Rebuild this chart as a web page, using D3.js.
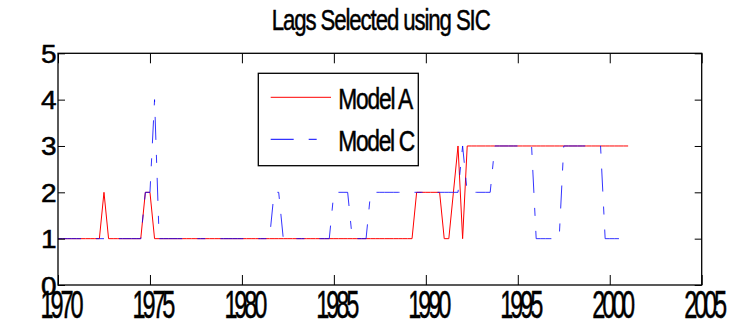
<!DOCTYPE html>
<html>
<head>
<meta charset="utf-8">
<script src="https://cdn.jsdelivr.net/npm/d3@7"></script>
<style>
  body { margin: 0; background: #fff; }
  svg { display: block; }
  text { font-family: "Liberation Sans", Arial, sans-serif; fill: #000; stroke: #000; stroke-width: 0.5px; }
</style>
</head>
<body>
<div id="chart"></div>
<script>
// quarterly observations, 1970Q1 .. 2001Q1 (one row per year)
const firstYear = 1970;
const seriesNames = ["Model A", "Model C"];
const seriesColors = ["#ff0000", "#0000ff"];
const xTicks = [1970, 1975, 1980, 1985, 1990, 1995, 2000, 2005];
const yTicks = [0, 1, 2, 3, 4, 5];

const modelA = [
    1, 1, 1, 1,   // 1970
    1, 1, 1, 1,   // 1971
    1, 1, 2, 1,   // 1972
    1, 1, 1, 1,   // 1973
    1, 1, 1, 2,   // 1974
    2, 1, 1, 1,   // 1975
    1, 1, 1, 1,   // 1976
    1, 1, 1, 1,   // 1977
    1, 1, 1, 1,   // 1978
    1, 1, 1, 1,   // 1979
    1, 1, 1, 1,   // 1980
    1, 1, 1, 1,   // 1981
    1, 1, 1, 1,   // 1982
    1, 1, 1, 1,   // 1983
    1, 1, 1, 1,   // 1984
    1, 1, 1, 1,   // 1985
    1, 1, 1, 1,   // 1986
    1, 1, 1, 1,   // 1987
    1, 1, 1, 1,   // 1988
    1, 1, 2, 2,   // 1989
    2, 2, 2, 2,   // 1990
    1, 1, 2, 3,   // 1991
    1, 3, 3, 3,   // 1992
    3, 3, 3, 3,   // 1993
    3, 3, 3, 3,   // 1994
    3, 3, 3, 3,   // 1995
    3, 3, 3, 3,   // 1996
    3, 3, 3, 3,   // 1997
    3, 3, 3, 3,   // 1998
    3, 3, 3, 3,   // 1999
    3, 3, 3, 3,   // 2000
    3             // 2001
];

const modelC = [
    1, 1, 1, 1,   // 1970
    1, 1, 1, 1,   // 1971
    1, 1, 1, 1,   // 1972
    1, 1, 1, 1,   // 1973
    1, 1, 1, 2,   // 1974
    2, 4, 1, 1,   // 1975
    1, 1, 1, 1,   // 1976
    1, 1, 1, 1,   // 1977
    1, 1, 1, 1,   // 1978
    1, 1, 1, 1,   // 1979
    1, 1, 1, 1,   // 1980
    1, 1, 1, 2,   // 1981
    2, 1, 1, 1,   // 1982
    1, 1, 1, 1,   // 1983
    1, 1, 1, 1,   // 1984
    2, 2, 2, 2,   // 1985
    1, 1, 1, 1,   // 1986
    2, 2, 2, 2,   // 1987
    2, 2, 2, 2,   // 1988
    2, 2, 2, 2,   // 1989
    2, 2, 2, 2,   // 1990
    2, 2, 2, 2,   // 1991
    3, 2, 2, 2,   // 1992
    2, 2, 2, 3,   // 1993
    3, 3, 3, 3,   // 1994
    3, 3, 3, 3,   // 1995
    1, 1, 1, 1,   // 1996
    1, 1, 3, 3,   // 1997
    3, 3, 3, 3,   // 1998
    3, 3, 3, 1,   // 1999
    1, 1, 1, 1,   // 2000
    1             // 2001
];

const width = 730;
const height = 325;
const plot = { left: 58, right: 701.7, top: 53.3, bottom: 285 };

const svg = d3.select("#chart")
    .append("svg")
    .attr("width", width)
    .attr("height", height);

const x = d3.scaleLinear().domain([1970, 2005]).range([plot.left, plot.right]);
const y = d3.scaleLinear().domain([0, 5]).range([plot.bottom, plot.top]);

// condensed text: glyphs squeezed by sx, spacing tightened to fit w
function squeezed(sel, x0, y0, size, sx, w) {
    return sel
        .attr("x", null)
        .attr("y", null)
        .attr("dy", null)
        .attr("text-anchor", "start")
        .attr("transform", `translate(${x0},${y0}) scale(${sx},1)`)
        .attr("font-size", size)
        .attr("textLength", w / sx)
        .attr("lengthAdjust", "spacing");
}

// title
squeezed(svg.append("text").text("Lags Selected using SIC"), 271.7, 30, 30, 0.74, 219);

// series lines (red first, blue dash-dot on top)
const line = d3.line()
    .x((d, i) => x(firstYear + i / 4))
    .y((d) => y(d));

[modelA, modelC].forEach((values, k) => {
    svg.append("path")
        .datum(values)
        .attr("fill", "none")
        .attr("stroke", seriesColors[k])
        .attr("stroke-width", 1)
        .attr("stroke-opacity", k === 1 ? 0.8 : 1)
        .attr("stroke-dasharray", k === 1 ? "23,15,8,15" : null)
        .attr("d", line);
});

// axes: ticks point inward on all four sides
const bottomAxis = svg.append("g")
    .attr("transform", `translate(0,${plot.bottom})`)
    .call(d3.axisBottom(x).tickValues(xTicks).tickSize(-10).tickFormat(d3.format("d")));
bottomAxis.selectAll("text").each(function () {
    squeezed(d3.select(this), 3.5 - 21.5, 33, 38, 0.62, 43);
});

svg.append("g")
    .attr("transform", `translate(0,${plot.top})`)
    .call(d3.axisTop(x).tickValues(xTicks).tickSize(-10).tickFormat(""));

const leftAxis = svg.append("g")
    .attr("transform", `translate(${plot.left},0)`)
    .call(d3.axisLeft(y).tickValues(yTicks).tickSize(-7).tickFormat(d3.format("d")));
leftAxis.selectAll("text")
    .attr("x", null)
    .attr("dy", null)
    .attr("transform", "translate(-1.5,9) scale(1.12,1)")
    .attr("font-size", 25);

svg.append("g")
    .attr("transform", `translate(${plot.right},0)`)
    .call(d3.axisRight(y).tickValues(yTicks).tickSize(-7).tickFormat(""));

svg.selectAll(".domain").remove();
svg.selectAll(".tick line").attr("stroke", "#000");
svg.selectAll(".tick text").attr("fill", "#000").attr("font-family", null);

// axes box
svg.append("rect")
    .attr("x", plot.left)
    .attr("y", plot.top)
    .attr("width", plot.right - plot.left)
    .attr("height", plot.bottom - plot.top)
    .attr("fill", "none")
    .attr("stroke", "#000")
    .attr("stroke-width", 1.3);

// legend
const legend = svg.append("g");
legend.append("rect")
    .attr("x", 258.3)
    .attr("y", 73.3)
    .attr("width", 160)
    .attr("height", 92.4)
    .attr("fill", "#fff")
    .attr("stroke", "#000")
    .attr("stroke-width", 1.3);

const legendRowY = [97.3, 139.3];
seriesNames.forEach((name, k) => {
    legend.append("line")
        .attr("x1", 270.7)
        .attr("x2", 331)
        .attr("y1", legendRowY[k])
        .attr("y2", legendRowY[k])
        .attr("stroke", seriesColors[k])
        .attr("stroke-width", 1)
        .attr("stroke-dasharray", k === 1 ? "23,15,8,15" : null);
    squeezed(legend.append("text").text(name), 338.3, legendRowY[k] + 12, 30, 0.76, k === 1 ? 77 : 75);
});
</script>
</body>
</html>
